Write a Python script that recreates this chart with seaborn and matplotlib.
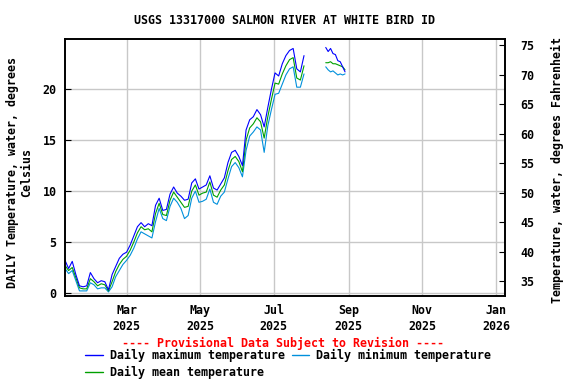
import matplotlib
matplotlib.use("Agg")
import matplotlib.pyplot as plt
import matplotlib.dates as mdates
from matplotlib.lines import Line2D
import numpy as np
import pandas as pd
import seaborn as sns

# ---- data ----
seg1_start = "2025-01-09"   # first segment, every 3 days
seg2_start = "2025-08-13"   # second segment, every 2 days

max1 = [3.2, 2.4, 3.1, 1.8, 0.7, 0.6, 0.7, 2.0, 1.4, 1.0, 1.2, 1.1, 0.3, 1.8, 2.6, 3.4, 3.8, 4.0,
        4.7, 5.6, 6.5, 6.9, 6.5, 6.8, 6.6, 8.6, 9.3, 8.1, 8.2, 9.7, 10.4, 9.8, 9.5, 9.1, 9.2,
        10.8, 11.2, 10.2, 10.4, 10.6, 11.5, 10.3, 10.1, 10.7, 11.3, 12.8, 13.8, 14.0, 13.4, 12.5,
        16.0, 17.0, 17.3, 18.0, 17.5, 16.3, 18.2, 20.0, 21.6, 21.3, 22.5, 23.3, 23.8, 24.0, 22.0,
        21.7, 23.3]
mean1 = [2.7, 2.2, 2.5, 1.5, 0.5, 0.4, 0.4, 1.4, 1.1, 0.7, 0.9, 0.8, 0.2, 1.1, 2.1, 2.8, 3.3, 3.6,
         4.2, 5.0, 5.9, 6.5, 6.2, 6.3, 6.0, 7.8, 8.8, 7.7, 7.6, 9.1, 9.9, 9.4, 8.9, 8.4, 8.5,
         10.0, 10.6, 9.6, 9.8, 9.9, 10.9, 9.6, 9.4, 10.1, 10.6, 12.0, 13.1, 13.4, 12.9, 11.9,
         15.0, 16.2, 16.6, 17.2, 16.8, 15.2, 17.3, 19.0, 20.6, 20.5, 21.5, 22.3, 22.9, 23.1, 21.1,
         20.9, 22.3]
min1 = [2.4, 1.9, 2.2, 1.2, 0.2, 0.2, 0.2, 1.0, 0.8, 0.4, 0.5, 0.5, 0.1, 0.6, 1.6, 2.2, 2.8, 3.2,
        3.7, 4.4, 5.3, 6.0, 5.8, 5.6, 5.4, 7.0, 8.3, 7.3, 7.1, 8.5, 9.3, 8.9, 8.3, 7.3, 7.6,
        9.3, 10.0, 8.9, 9.0, 9.2, 10.2, 8.9, 8.7, 9.5, 9.9, 11.2, 12.4, 12.8, 12.3, 11.4,
        14.0, 15.4, 15.8, 16.3, 16.0, 13.8, 16.4, 18.0, 19.5, 19.6, 20.5, 21.4, 22.0, 22.2, 20.2,
        20.2, 21.5]

max2 = [24.1, 23.7, 24.0, 23.5, 23.4, 22.8, 22.7, 22.2, 21.7]
mean2 = [22.6, 22.6, 22.7, 22.5, 22.5, 22.4, 22.3, 22.2, 21.9]
min2 = [22.2, 21.9, 21.7, 21.8, 21.6, 21.4, 21.5, 21.4, 21.5]

series_colors = {"Daily maximum temperature": "#0000ff",
                 "Daily minimum temperature": "#0090dc",
                 "Daily mean temperature": "#00a000"}

title = "USGS 13317000 SALMON RIVER AT WHITE BIRD ID"
ylabel_left = "DAILY Temperature, water, degrees\nCelsius"
ylabel_right = "Temperature, water, degrees Fahrenheit"
notice = "---- Provisional Data Subject to Revision ----"
c_ticks = [0, 5, 10, 15, 20]
f_ticks = [35, 40, 45, 50, 55, 60, 65, 70, 75]
x_ticks = ["2025-03-01", "2025-05-01", "2025-07-01", "2025-09-01", "2025-11-01", "2026-01-01"]

# ---- build long table ----
d1 = pd.date_range(seg1_start, periods=len(max1), freq="3D")
d2 = pd.date_range(seg2_start, periods=len(max2), freq="2D")
rows = []
for name, v1, v2 in [("Daily maximum temperature", max1, max2),
                     ("Daily minimum temperature", min1, min2),
                     ("Daily mean temperature", mean1, mean2)]:
    for d, v in zip(d1, v1):
        rows.append((d, v, name, 1))
    for d, v in zip(d2, v2):
        rows.append((d, v, name, 2))
df = pd.DataFrame(rows, columns=["date", "temp", "series", "segment"])

# ---- style ----
sns.set_style("white")
mono = ["DejaVu Sans Mono"]
plt.rcParams["font.family"] = mono
plt.rcParams["font.weight"] = "bold"
for key in ["text.color", "axes.labelcolor", "xtick.color", "ytick.color", "axes.edgecolor"]:
    plt.rcParams[key] = "black"
fs = 8.4

fig = plt.figure(figsize=(5.76, 3.84), dpi=100)
ax = fig.add_axes([65 / 576, 1 - 296 / 384, 440 / 576, (296 - 39.3) / 384])

for name in ["Daily minimum temperature", "Daily mean temperature", "Daily maximum temperature"]:
    sub = df[df["series"] == name]
    sns.lineplot(data=sub, x="date", y="temp", units="segment", estimator=None,
                 color=series_colors[name], lw=0.8, ax=ax, legend=False)

ax.set_xlim(pd.Timestamp("2025-01-09"), pd.Timestamp("2026-01-08 12:00"))
ax.set_ylim(-0.3, 24.9)
ax.set_yticks(c_ticks)
ax.set_xticks(pd.to_datetime(x_ticks))
ax.xaxis.set_major_formatter(mdates.DateFormatter("%b\n%Y"))
ax.grid(True, color="#c8c8c8", lw=1)
ax.set_axisbelow(True)
for s in ax.spines.values():
    s.set_color("black")
    s.set_linewidth(1.2)
ax.tick_params(direction="in", length=4, labelsize=fs, pad=6, color="black", labelcolor="black")
ax.tick_params(axis="x", pad=6)
ax.set_xlabel("")
ax.set_ylabel("")
for lab in ax.get_xticklabels() + ax.get_yticklabels():
    lab.set_fontweight("bold")
    lab.set_linespacing(1.25)

ax2 = ax.twinx()
ax2.set_ylim(32.46, 75.97)
ax2.set_yticks(f_ticks)
ax2.tick_params(direction="in", length=4, labelsize=fs, pad=11, color="black", labelcolor="black")
for lab in ax2.get_yticklabels():
    lab.set_fontweight("bold")
ax2.set_ylabel("")
for s in ax2.spines.values():
    s.set_color("black")
    s.set_linewidth(1.2)

fig.text(20 / 576, 1 - 173 / 384, ylabel_left, ha="center", va="center", rotation=90,
         fontsize=fs, fontweight="bold", linespacing=1.1, multialignment="center", color="black")
fig.text(557 / 576, 1 - 170 / 384, ylabel_right, ha="center", va="center", rotation=90,
         fontsize=fs, fontweight="bold", color="black")
fig.text(285 / 576, 1 - 20 / 384, title, ha="center", va="center", fontsize=fs,
         fontweight="bold", color="black")
fig.text(283 / 576, 1 - 343 / 384, notice, ha="center", va="center", fontsize=fs,
         fontweight="bold", color="red")

handles = [Line2D([], [], color=series_colors[n], lw=1) for n in
           ["Daily maximum temperature", "Daily mean temperature", "Daily minimum temperature"]]
labels = ["Daily maximum temperature", "Daily mean temperature", "Daily minimum temperature"]
leg = fig.legend(handles, labels, ncol=2, loc="upper left", bbox_to_anchor=(85 / 576, 1 - 349 / 384),
                 frameon=False, fontsize=fs, handlelength=1.5, handletextpad=0.6, columnspacing=0.6,
                 labelspacing=0.35, borderpad=0, borderaxespad=0,
                 prop={"family": mono, "weight": "bold", "size": fs})
for t in leg.get_texts():
    t.set_color("black")

fig.savefig("out.png", dpi=100)
